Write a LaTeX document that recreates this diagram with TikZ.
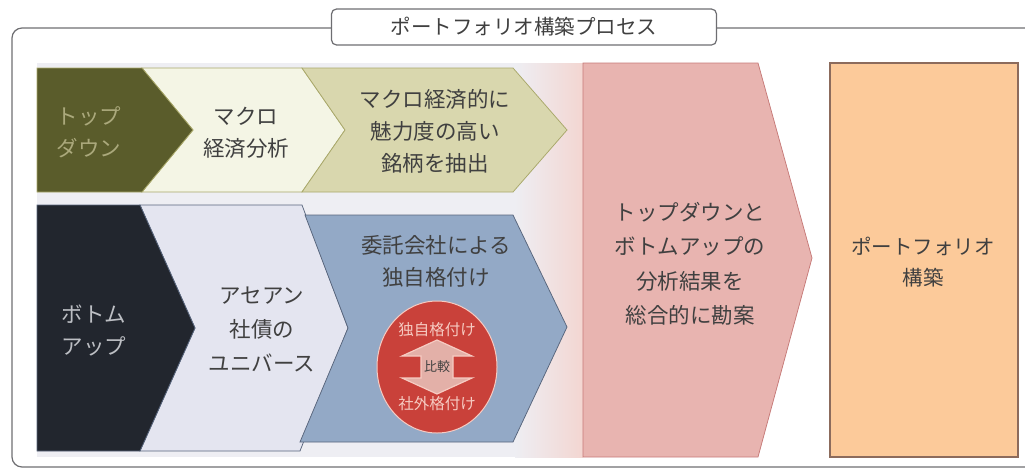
\documentclass[tikz,border=0pt]{standalone}
\usepackage{fontspec}
\setmainfont{Noto Sans CJK JP}
\usetikzlibrary{positioning}

\definecolor{txtgray}{HTML}{404040}
\definecolor{frameline}{HTML}{6E6E72}
\definecolor{bandgray}{HTML}{EEEEF3}
\definecolor{bandpink}{HTML}{F3D6D1}
\definecolor{tddark}{HTML}{5A5C2B}
\definecolor{tdtext}{HTML}{ABA97C}
\definecolor{tdcream}{HTML}{F4F5E5}
\definecolor{tdbeige}{HTML}{D9D7AE}
\definecolor{tdline}{HTML}{A9A86A}
\definecolor{budark}{HTML}{22262E}
\definecolor{butext}{HTML}{BDBFC4}
\definecolor{bulav}{HTML}{E4E5F0}
\definecolor{bublue}{HTML}{93A9C6}
\definecolor{buline}{HTML}{58657C}
\definecolor{cmpred}{HTML}{C9413A}
\definecolor{cmppale}{HTML}{F6CBC2}
\definecolor{cmparrowfill}{HTML}{E3B0A8}
\definecolor{synpink}{HTML}{E8B4B0}
\definecolor{synline}{HTML}{C67A78}
\definecolor{buildorange}{HTML}{FCCA9A}
\definecolor{buildline}{HTML}{8C6B5C}

\tikzset{every picture/.style={line width=0.75pt}}
\tikzset{
  lbl/.style={align=center, text=txtgray, font=\fontsize{21.5}{32}\selectfont},
  circtxt/.style={text=cmppale, font=\fontsize{15.5}{18}\selectfont, inner sep=1pt},
  titlebox/.style={draw=frameline, fill=white, rounded corners=5pt, line width=1.2pt,
    minimum width=385pt, minimum height=36pt, text=txtgray, font=\fontsize{20.5}{22}\selectfont},
}

\begin{document}
\begin{tikzpicture}[x=1pt,y=-1pt]
\useasboundingbox (0,0) rectangle (1025,472);
% band behind the rows
\fill[bandgray] (37,63) rectangle (515,457);
\shade[left color=bandgray, right color=bandpink] (515,63) rectangle (583,457);
% frame and title
\draw[frameline, line width=1.2pt, rounded corners=10pt] (1030,28) -- (12,28) -- (12,467) -- (1030,467);
\node[titlebox] (title) at (524,27) {ポートフォリオ構築プロセス};

% top down row
\filldraw[fill=tdcream, draw=tdline] (142,68) -- (302,68) -- (345,130) -- (302,192) -- (142,192) -- (193,130) -- cycle;
\filldraw[fill=tddark, draw=tdline] (37,68) -- (142,68) -- (193,130) -- (142,192) -- (37,192) -- cycle;
\filldraw[fill=tdbeige, draw=tdline] (302,68) -- (513,68) -- (567,130) -- (513,192) -- (302,192) -- (345,130) -- cycle;
\node[lbl, text=tdtext] (td) at (89,132) {トップ\\ダウン};
\node[lbl] (macro) at (246,133) {マクロ\\経済分析};
\node[lbl] (attr) at (435,131) {マクロ経済的に\\魅力度の高い\\銘柄を抽出};

% bottom up row
\filldraw[fill=bulav, draw=buline] (140,205) -- (302,205) -- (348,328) -- (300,451) -- (140,451) -- (195,328) -- cycle;
\filldraw[fill=budark, draw=buline] (37,205) -- (140,205) -- (195,328) -- (140,451) -- (37,451) -- cycle;
\filldraw[fill=bublue, draw=buline] (305,215) -- (513,215) -- (567,327) -- (513,442) -- (300,442) -- (348,328) -- cycle;
\node[lbl, text=butext] (bu) at (94,330) {ボトム\\アップ};
\node[lbl, font=\fontsize{21.5}{34}\selectfont] (univ) at (262,329) {アセアン\\社債の\\ユニバース};
\node[lbl] (rating) at (436,261) {委託会社による\\独自格付け};

% comparison disc
\filldraw[fill=cmpred, draw=cmppale, line width=1pt] (437,367) ellipse [x radius=60, y radius=66];
\filldraw[fill=cmparrowfill, draw=cmppale, line width=1.2pt]
  (437,340) -- (472,356) -- (453,356) -- (453,378) -- (472,378) -- (437,394)
  -- (402,378) -- (421,378) -- (421,356) -- (402,356) -- cycle;
\node[text=txtgray, font=\fontsize{13}{15}\selectfont, inner sep=0pt] (cmp) at (437,367) {比較};
\node[circtxt] (own) at (437,330) {独自格付け};
\node[circtxt] (ext) at (437,404) {社外格付け};

% synthesis and portfolio
\filldraw[fill=synpink, draw=synline] (583,63) -- (758,63) -- (812,258) -- (758,457) -- (583,457) -- cycle;
\node[lbl, font=\fontsize{21.5}{34.5}\selectfont] (synth) at (690,264) {トップダウンと\\ボトムアップの\\分析結果を\\総合的に勘案};
\filldraw[fill=buildorange, draw=buildline, line width=1.2pt] (830,63) rectangle (1018,457);
\node[lbl, font=\fontsize{20.5}{31}\selectfont] (build) at (923,262) {ポートフォリオ\\構築};
\end{tikzpicture}
\end{document}
